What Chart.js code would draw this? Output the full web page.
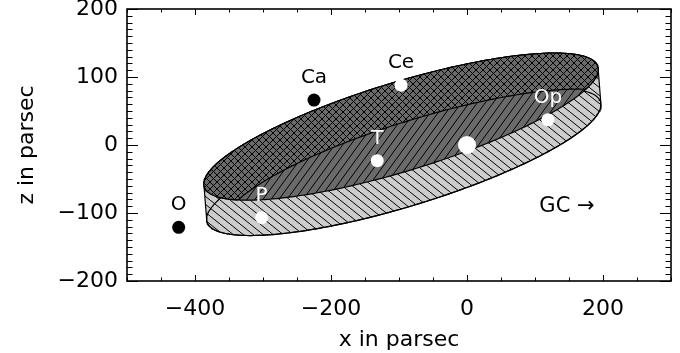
<!DOCTYPE html>
<html>
<head>
<meta charset="utf-8">
<script src="https://cdn.jsdelivr.net/npm/chart.js@4.4.0/dist/chart.umd.min.js"></script>
<style>
    html, body { margin: 0; padding: 0; background: #fff; }
    #wrap { width: 680px; height: 353px; }
</style>
</head>
<body>
<div id="wrap"><canvas id="myChart" width="680" height="353"></canvas></div>
<script>
// tick labels
let xTicks = [-400, -200, 0, 200];
let yTicks = [-200, -100, 0, 100, 200];

// associations, x and z in parsec
let starNames = ['O', 'Ca', 'Ce', 'T', 'P', 'Op'];
let starX = [-424, -225, -97, -132, -302, 119];
let starZ = [-121, 66, 88, -23, -107, 37];
let starDark = [true, true, false, false, false, false];
let labelDark = [true, true, true, false, false, false];

// the sun
let sunX = [0];
let sunZ = [0];

// belt faces: centre x, centre z, half width, half height at centre, tilt (dz/dx of chord middles)
let topFace = [-97, 27, 290, 68, 0.29];
let bottomFace = [-93, -25, 290, 68, 0.29];
let splitFace = [-65, -26, 290, 68, 0.29];

let gcText = ['GC \u2192'];
let gcX = [147];
let gcZ = [-90];

let fontName = '"DejaVu Sans", "Liberation Sans", sans-serif';

function upperZ(f, x) {
    let r = (x - f[0]) / f[2];
    if (r < -1.000001 || r > 1.000001) return null;
    r = Math.max(-1, Math.min(1, r));
    return f[1] + f[4] * (x - f[0]) + f[3] * Math.sqrt(1 - r * r);
}

function lowerZ(f, x) {
    let r = (x - f[0]) / f[2];
    if (r < -1.000001 || r > 1.000001) return null;
    r = Math.max(-1, Math.min(1, r));
    return f[1] + f[4] * (x - f[0]) - f[3] * Math.sqrt(1 - r * r);
}

// x positions from left to right end of a face, denser at the tips
function xGrid(f, n) {
    let xs = [];
    for (let i = 0; i <= n; i++) xs.push(f[0] - f[2] * Math.cos(Math.PI * i / n));
    return xs;
}

function outline(f) {
    let pts = [];
    for (let i = 0; i <= 240; i++) {
        let t = i / 240 * 2 * Math.PI;
        let c = Math.cos(t);
        pts.push({x: f[0] + f[2] * c, y: f[1] + f[4] * f[2] * c + f[3] * Math.sin(t)});
    }
    return pts;
}

// side of the belt: top edge of upper face down to lower edge of bottom face
let band = [];
xGrid(topFace, 160).forEach((x) => band.push({x: x, y: upperZ(topFace, x)}));
xGrid(bottomFace, 160).reverse().forEach((x) => band.push({x: x, y: lowerZ(bottomFace, x)}));
band.push(band[0]);

// cross hatched part of the upper face
let crossXs = xGrid(topFace, 200);
let cross = crossXs.map((x) => ({x: x, y: upperZ(topFace, x)}));
for (let i = crossXs.length - 1; i >= 0; i--) {
    let x = crossXs[i];
    let lo = lowerZ(topFace, x);
    let s = upperZ(splitFace, x);
    if (s !== null && s > lo) lo = Math.min(s, upperZ(topFace, x));
    cross.push({x: x, y: lo});
}
cross.push(cross[0]);

function makePattern(bg, w, h, dirs) {
    let c = document.createElement('canvas');
    c.width = w;
    c.height = h;
    let g = c.getContext('2d');
    g.fillStyle = bg;
    g.fillRect(0, 0, w, h);
    g.strokeStyle = '#000';
    g.lineWidth = 1;
    dirs.forEach((d) => {
        for (let k = -1; k <= 1; k++) {
            g.beginPath();
            if (d === '/') {
                g.moveTo(k * w, h);
                g.lineTo(k * w + w, 0);
            } else {
                g.moveTo(k * w, 0);
                g.lineTo(k * w + w, h);
            }
            g.stroke();
        }
    });
    return g.createPattern(c, 'repeat');
}

let darkGrey = '#6a6a6a';
let lightGrey = '#cdcdcd';
let crossFill = makePattern(darkGrey, 7, 7, ['/', '\\']);
let slashFill = makePattern(darkGrey, 8, 11, ['/']);
let backFill = makePattern(lightGrey, 10, 8, ['\\']);

function minusLabel(v) {
    return (v < 0 ? '\u2212' : '') + Math.abs(v);
}

let framePlugin = {
    id: 'idlFrame',
    afterDatasetsDraw(chart) {
        let ctx = chart.ctx;
        let a = chart.chartArea;
        let xs = chart.scales.x;
        let ys = chart.scales.y;
        ctx.save();
        ctx.strokeStyle = '#000';
        ctx.lineWidth = 1;
        ctx.beginPath();
        for (let v = xs.min; v <= xs.max; v += 50) {
            let px = Math.round(xs.getPixelForValue(v)) + 0.5;
            let len = v % 200 === 0 ? 6 : 3.5;
            ctx.moveTo(px, a.bottom);
            ctx.lineTo(px, a.bottom - len);
            ctx.moveTo(px, a.top);
            ctx.lineTo(px, a.top + len);
        }
        for (let v = ys.min; v <= ys.max; v += 10) {
            let py = Math.round(ys.getPixelForValue(v)) + 0.5;
            let len = v % 100 === 0 ? 11 : 5.5;
            ctx.moveTo(a.left, py);
            ctx.lineTo(a.left + len, py);
            ctx.moveTo(a.right, py);
            ctx.lineTo(a.right - len, py);
        }
        ctx.stroke();
        ctx.lineWidth = 1.6;
        ctx.strokeRect(a.left, a.top, a.right - a.left, a.bottom - a.top);
        ctx.restore();
    }
};

let labelPlugin = {
    id: 'starLabels',
    afterDatasetsDraw(chart) {
        let ctx = chart.ctx;
        let xs = chart.scales.x;
        let ys = chart.scales.y;
        ctx.save();
        ctx.textAlign = 'center';
        ctx.textBaseline = 'middle';
        ctx.font = '20px ' + fontName;
        starNames.forEach((name, i) => {
            ctx.fillStyle = labelDark[i] ? '#000' : '#fff';
            ctx.fillText(name, xs.getPixelForValue(starX[i]), ys.getPixelForValue(starZ[i]) - 22);
        });
        ctx.fillStyle = '#000';
        ctx.font = '21px ' + fontName;
        gcText.forEach((t, i) => {
            ctx.fillText(t, xs.getPixelForValue(gcX[i]), ys.getPixelForValue(gcZ[i]));
        });
        ctx.restore();
    }
};

let ctx = document.getElementById('myChart').getContext('2d');

let myChart = new Chart(ctx, {
    type: 'scatter',
    data: {
        datasets: [
            {
                data: band, showLine: true, fill: 'shape', backgroundColor: backFill,
                borderColor: '#000', borderWidth: 1.2, pointRadius: 0, tension: 0, order: 6
            },
            {
                data: outline(bottomFace), showLine: true, fill: false,
                borderColor: '#000', borderWidth: 1.2, pointRadius: 0, tension: 0, order: 5
            },
            {
                data: outline(topFace), showLine: true, fill: 'shape', backgroundColor: slashFill,
                borderColor: '#000', borderWidth: 1.2, pointRadius: 0, tension: 0, order: 4
            },
            {
                data: cross, showLine: true, fill: 'shape', backgroundColor: crossFill,
                borderColor: '#000', borderWidth: 1.2, pointRadius: 0, tension: 0, order: 3
            },
            {
                data: starX.map((x, i) => ({x: x, y: starZ[i]})),
                pointRadius: 6.5, borderWidth: 0,
                backgroundColor: starDark.map((d) => d ? '#000' : '#fff'), order: 2
            },
            {
                data: sunX.map((x, i) => ({x: x, y: sunZ[i]})),
                pointRadius: 9, borderWidth: 0, backgroundColor: '#fff', order: 1
            }
        ]
    },
    options: {
        responsive: false,
        animation: false,
        devicePixelRatio: 1,
        layout: {padding: {top: 8, right: 7, left: 0, bottom: 0}},
        plugins: {legend: {display: false}, tooltip: {enabled: false}},
        scales: {
            x: {
                type: 'linear', min: -500, max: 300,
                grid: {display: false, drawTicks: false},
                border: {display: false},
                afterBuildTicks: (s) => { s.ticks = xTicks.map((v) => ({value: v})); },
                afterFit: (s) => { s.height = 72; s.paddingLeft = 0; s.paddingRight = 0; },
                ticks: {
                    padding: 15, color: '#000', autoSkip: false, maxRotation: 0,
                    font: {family: fontName, size: 22}, callback: minusLabel
                },
                title: {
                    display: true, text: 'x in parsec', color: '#000',
                    font: {family: fontName, size: 22}, padding: {top: 0, bottom: 0}
                }
            },
            y: {
                type: 'linear', min: -200, max: 200,
                grid: {display: false, drawTicks: false},
                border: {display: false},
                afterBuildTicks: (s) => { s.ticks = yTicks.map((v) => ({value: v})); },
                afterFit: (s) => { s.width = 127; s.paddingTop = 0; s.paddingBottom = 0; },
                ticks: {
                    padding: 9, color: '#000', autoSkip: false,
                    font: {family: fontName, size: 22}, callback: minusLabel
                },
                title: {
                    display: true, text: 'z in parsec', color: '#000',
                    font: {family: fontName, size: 22}, padding: {top: 14, bottom: 0}
                }
            }
        }
    },
    plugins: [framePlugin, labelPlugin]
});
</script>
</body>
</html>
